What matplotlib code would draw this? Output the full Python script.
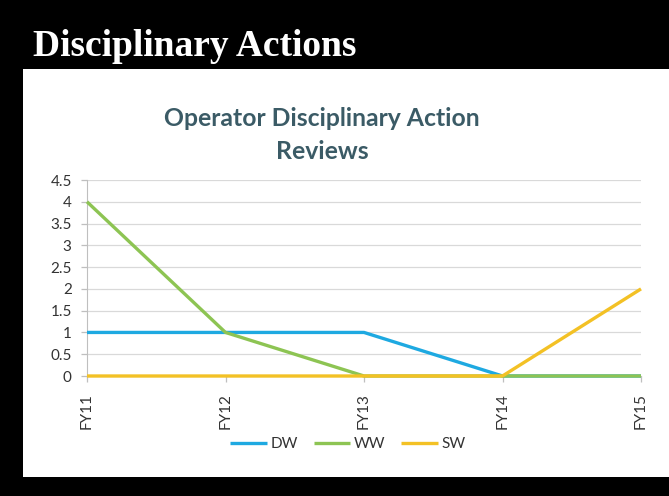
import matplotlib.pyplot as plt
from matplotlib.patches import Rectangle

years = ['FY11', 'FY12', 'FY13', 'FY14', 'FY15']
dw = [1, 1, 1, 0, 0]
ww = [4, 1, 0, 0, 0]
sw = [0, 0, 0, 0, 2]

COLORS = {'DW': '#1EA9E1', 'WW': '#8DC453', 'SW': '#F3C125'}

fig = plt.figure(figsize=(6.69, 4.96), dpi=100, facecolor='black')

# white slide panel
fig.patches.append(Rectangle((23 / 669, 1 - 477 / 496), 1 - 23 / 669, (477 - 69) / 496,
                             transform=fig.transFigure, facecolor='white', edgecolor='none', zorder=-1))

fig.text(33 / 669, 1 - 56 / 496, 'Disciplinary Actions', color='white',
         family='Liberation Serif', weight='bold', fontsize=27, va='baseline', ha='left')

fig.text(322 / 669, 1 - 135 / 496, 'Operator Disciplinary Action\nReviews', color='#3B5B66',
         family='Lato', weight='bold', fontsize=17.8, ha='center', va='center', linespacing=1.5)

ax = fig.add_axes([87 / 669, 1 - 376 / 496, (641 - 87) / 669, (376 - 180) / 496], zorder=2)
ax.set_facecolor('white')
x = range(len(years))
for name, vals in [('DW', dw), ('WW', ww), ('SW', sw)]:
    ax.plot(x, vals, color=COLORS[name], lw=2.4, label=name, clip_on=False, zorder=3,
            solid_joinstyle='round', solid_capstyle='butt')

ax.set_xlim(0, 4)
ax.set_ylim(0, 4.5)
yt = [i * 0.5 for i in range(10)]
ax.set_yticks(yt)
ax.set_yticklabels(['%g' % v for v in yt])
ax.set_xticks(list(x))
ax.set_xticklabels(years, rotation=90)
ax.grid(axis='y', color='#D9D9D9', lw=0.9)
ax.set_axisbelow(True)
for s in ['top', 'right']:
    ax.spines[s].set_visible(False)
ax.spines['left'].set_color('#BFBFBF')
ax.spines['bottom'].set_color('#BFBFBF')
ax.tick_params(axis='both', colors='#BFBFBF', labelcolor='#333333', labelsize=11, length=4, width=0.9)
ax.tick_params(axis='y', pad=7)
ax.tick_params(axis='x', pad=8)
for lab in ax.get_xticklabels() + ax.get_yticklabels():
    lab.set_family('Lato')

leg = fig.legend(loc='center', bbox_to_anchor=(348 / 669, 1 - 444 / 496), ncol=3, frameon=False,
                 handlelength=2.4, columnspacing=1.0, handletextpad=0.25,
                 prop={'family': 'Lato', 'size': 11})
for t in leg.get_texts():
    t.set_color('#333333')

fig.savefig('out.png', dpi=100, facecolor='black')
